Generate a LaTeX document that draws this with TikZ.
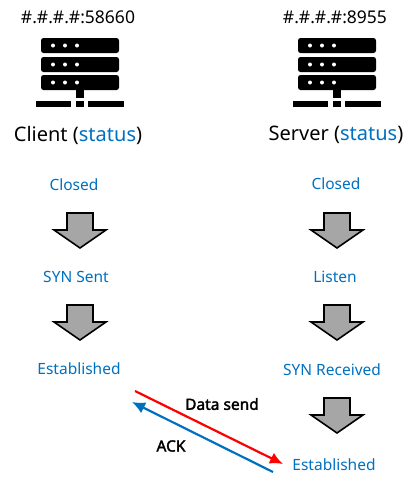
\documentclass[tikz,border=0pt]{standalone}
\usepackage{fontspec}
\setmainfont{Noto Sans}[AutoFakeBold=2.2]
\usepackage{tikz}
\usetikzlibrary{arrows.meta,positioning}
\definecolor{statusblue}{HTML}{0070C0}
\definecolor{flowgray}{HTML}{A6A6A6}
\tikzset{
  every node/.style={inner sep=0pt},
  addr/.style={font=\fontsize{17.5}{20}\selectfont},
  title/.style={font=\fontsize{20}{24}\selectfont},
  status/.style={text=statusblue,font=\fontsize{15.5}{18}\selectfont},
  msg/.style={font=\fontsize{15.5}{18}\selectfont\bfseries},
  rack/.pic={
    \foreach \y in {38,57,75} {
      \fill [black,rounded corners=2.5] (-39,-\y) rectangle (39,-\y-15);
      \foreach \x in {-27,-15,-3}
        \fill [white] (\x,-\y-7.5) circle (2);
    }
    \fill [black] (-4,-90) rectangle (4,-98);
    \fill [black] (-44,-101) rectangle (-9,-107);
    \fill [black] (-4,-101) rectangle (4,-107);
    \fill [black] (8,-101) rectangle (44,-107);
  },
  flow/.pic={
    \draw [black,fill=flowgray,line width=1.6] (-13,0) -- (13,0) -- (13,-17) -- (26,-17)
      -- (0,-35) -- (-26,-17) -- (-13,-17) -- cycle;
  }
}
\begin{document}
\begin{tikzpicture}[x=1pt,y=1pt]
        \useasboundingbox (0,0) rectangle (413,-483);
        % client side
        \node [addr] (caddr) at (78,-17) {\#.\#.\#.\#:58660};
        \pic at (80,0) {rack};
        \node [title] (ctitle) at (78,-135) {Client (\textcolor{statusblue}{status})};
        \node [status] (c1) at (74,-185) {Closed};
        \pic at (80,-213) {flow};
        \node [status] (c2) at (76,-277) {SYN Sent};
        \pic at (80,-305) {flow};
        \node [status] (c3) at (79,-369) {Established};
        % server side
        \node [addr] (saddr) at (335,-17) {\#.\#.\#.\#:8955};
        \pic at (337,0) {rack};
        \node [title] (stitle) at (336,-135) {Server (\textcolor{statusblue}{status})};
        \node [status] (s1) at (336,-184) {Closed};
        \pic at (337,-213) {flow};
        \node [status] (s2) at (335,-277) {Listen};
        \pic at (337,-305) {flow};
        \node [status] (s3) at (332,-370) {SYN Received};
        \pic at (337,-398) {flow};
        \node [status] (s4) at (334,-465) {Established};
        % messages
        \coordinate (datastart) at (135,-391);
        \coordinate (dataend) at (283,-464);
        \coordinate (ackstart) at (273,-472);
        \coordinate (ackend) at (132,-402);
        \draw [red,line width=2.2,-{Latex[length=13,width=12]}] (datastart) -- (dataend);
        \draw [statusblue,line width=2.2,-{Latex[length=13,width=12]}] (ackstart) -- (ackend);
        \node [msg] (datalabel) at (222,-404) {Data send};
        \node [msg] (acklabel) at (171,-446) {ACK};
\end{tikzpicture}
\end{document}
